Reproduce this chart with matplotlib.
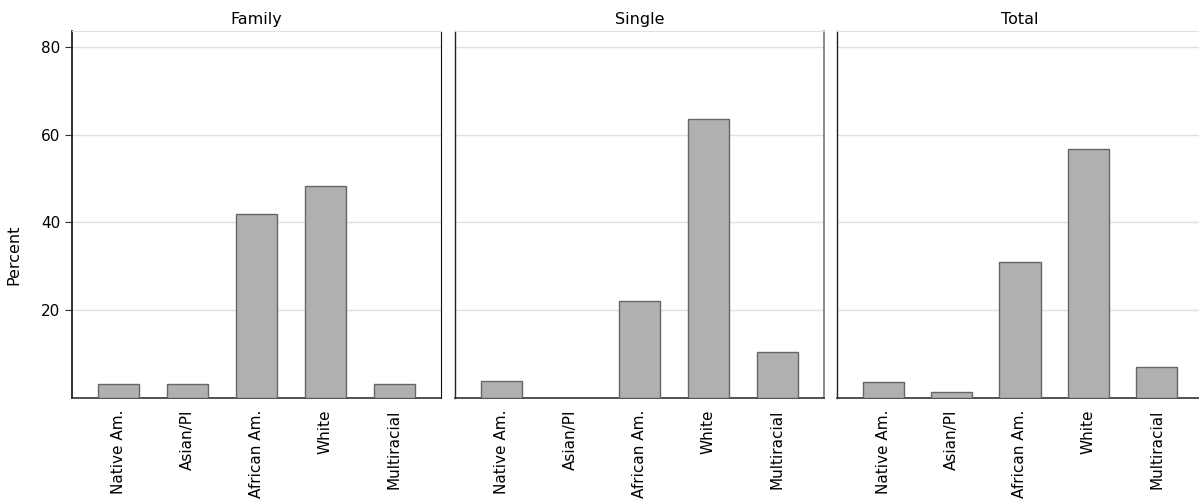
import matplotlib.pyplot as plt

groups = ["Family", "Single", "Total"]
races = ["Native Am.", "Asian/PI", "African Am.", "White", "Multiracial"]
family = [3.1, 3.1, 41.9, 48.3, 3.1]
single = [3.8, 0.0, 22.0, 63.6, 10.3]
total = [3.6, 1.3, 30.9, 56.7, 7.0]
values = [family, single, total]

fig = plt.figure(figsize=(11.99, 5.03), dpi=100)

lefts = [72 / 1199, 455 / 1199, 837 / 1199]
rights = [441 / 1199, 824 / 1199, 1203 / 1199]
bottom = 1 - 397.5 / 503
top = 1 - 31 / 503

for i, (g, vals) in enumerate(zip(groups, values)):
    ax = fig.add_axes([lefts[i], bottom, rights[i] - lefts[i], top - bottom])
    x = range(len(races))
    ax.bar(x, vals, width=0.6, color="#b0b0b0", edgecolor="#666666", linewidth=1.0, zorder=3)
    ax.set_xlim(-0.675, 4.675)
    ax.set_ylim(0, 83.7)
    ax.set_yticks([20, 40, 60, 80])
    ax.grid(axis="y", color="#e0e0e0", linewidth=1.0, zorder=0)
    ax.set_xticks(list(x))
    ax.set_xticklabels(races, rotation=90, fontsize=11, va="top", ha="center")
    ax.tick_params(axis="x", length=0, pad=9)
    ax.set_title(g, fontsize=11.5, pad=5)
    ax.spines["top"].set_color("#e0e0e0")
    ax.spines["bottom"].set_color("#333333")
    ax.spines["bottom"].set_linewidth(1.2)
    ax.spines["left"].set_color("#222222")
    ax.spines["left"].set_linewidth(1.3 if i == 0 else 1.0)
    if i == 0:
        ax.spines["right"].set_color("#111111")
    elif i == 1:
        ax.spines["right"].set_color("#777777")
        ax.spines["right"].set_linewidth(1.2)
    else:
        ax.spines["right"].set_visible(False)
    if i == 0:
        ax.tick_params(axis="y", labelsize=11, length=5, color="#333333")
    else:
        ax.tick_params(axis="y", labelleft=False, length=0)

fig.text(14 / 1199, 1 - 255 / 503, "Percent", rotation=90, fontsize=11.5,
         ha="center", va="center")

fig.savefig("out.png", dpi=100)
